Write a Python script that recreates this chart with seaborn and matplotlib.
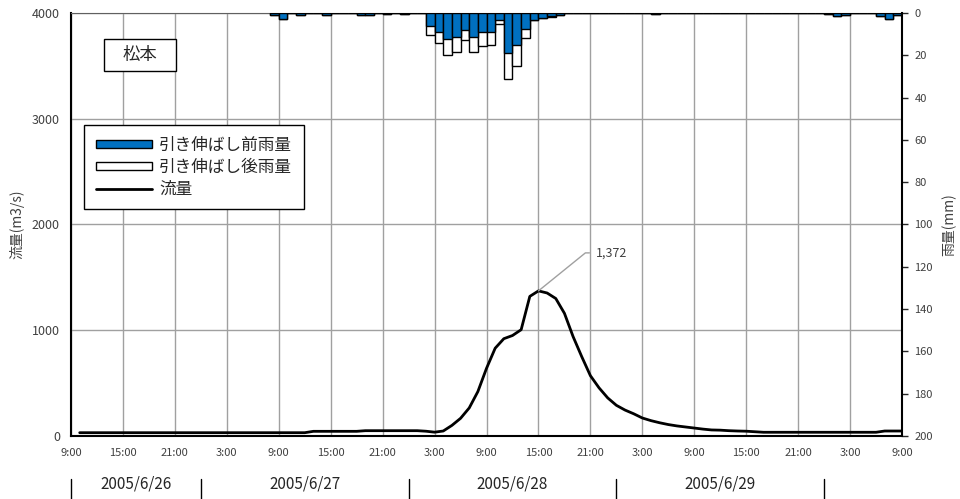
import numpy as np
import pandas as pd
import matplotlib
matplotlib.use('Agg')
import matplotlib.pyplot as plt
from matplotlib.patches import Patch, Rectangle
from matplotlib.lines import Line2D
import seaborn as sns

# time axis: hours counted from 2005/6/26 9:00
flow_hours = list(range(1, 97))
flow = [31, 31, 31, 31, 31, 31, 31, 31, 31, 31,
        31, 31, 31, 31, 31, 31, 31, 31, 31, 31,
        31, 31, 31, 31, 31, 31, 31, 44, 44, 44,
        44, 44, 44, 50, 50, 50, 50, 50, 50, 50,
        45, 36, 47, 100, 167, 265, 420, 640, 830, 920,
        950, 1005, 1320, 1372, 1352, 1300, 1160, 940, 750, 570,
        455, 360, 290, 245, 210, 170, 145, 125, 108, 95,
        85, 75, 65, 57, 55, 50, 47, 45, 40, 35,
        35, 35, 35, 35, 35, 35, 35, 35, 35, 35,
        35, 35, 35, 47, 47, 47]

# hourly rainfall, bar spans [hour, hour+1]
rain_hours = [23, 24, 26, 29, 33, 34, 36, 38,
              41, 42, 43, 44, 45, 46, 47, 48, 49, 50, 51, 52, 53, 54, 55, 56,
              67, 87, 88, 89, 93, 94, 95]
rain_before = [0.8, 2.7, 1.1, 1.1, 1.1, 1.1, 0.4, 0.5,
               6.0, 9.0, 12.1, 11.5, 7.9, 11.5, 9.1, 9.1, 3.2, 18.9, 15.3, 7.6, 3.2, 2.4, 1.6, 0.8,
               0.3, 0.3, 1.6, 1.1, 1.3, 2.7, 1.1]
rain_after = [0.8, 2.7, 1.1, 1.1, 1.1, 1.1, 0.4, 0.5,
              10.2, 14.2, 19.7, 18.6, 12.6, 18.6, 15.8, 15.1, 5.2, 31.2, 25.2, 11.8, 3.5, 2.6, 1.7, 0.9,
              0.3, 0.3, 1.6, 1.1, 1.3, 2.7, 1.1]

tick_labels = ['9:00', '15:00', '21:00', '3:00', '9:00', '15:00', '21:00', '3:00', '9:00',
               '15:00', '21:00', '3:00', '9:00', '15:00', '21:00', '3:00', '9:00']
dates = ['2005/6/26', '2005/6/27', '2005/6/28', '2005/6/29']
date_edges = [0, 15, 39, 63, 87]

sns.set_style('white')
plt.rcParams['font.family'] = ['Noto Sans CJK JP', 'DejaVu Sans']

fig, ax = plt.subplots(figsize=(9.6, 4.99), dpi=100)
fig.subplots_adjust(left=0.074, right=0.9396, bottom=0.1263, top=0.974)

# flow line
sns.lineplot(x=flow_hours, y=flow, ax=ax, color='black', lw=2)
ax.set_ylim(0, 4000)
ax.set_yticks([0, 1000, 2000, 3000, 4000])
ax.set_xticks(np.arange(0, 97, 6))
ax.set_xticklabels(tick_labels)
ax.grid(True, color='#a0a0a0', lw=1)
ax.tick_params(axis='both', length=0, labelcolor='#404040')
ax.tick_params(axis='x', pad=9, labelsize=8)
ax.tick_params(axis='y', pad=8, labelsize=9)
ax.set_xlabel('')
ax.set_ylabel('流量(m3/s)', fontsize=10, color='#404040')
ax.yaxis.set_label_coords(-0.0566, 0.5)
for s in ['left', 'bottom']:
    ax.spines[s].set_color('black')
    ax.spines[s].set_linewidth(1.5)
ax.spines['top'].set_color('#606060')
ax.spines['right'].set_visible(False)

# peak annotation
i = int(np.argmax(flow))
ax.annotate(f'{flow[i]:,}', xy=(flow_hours[i], flow[i]), xytext=(57, 38),
            textcoords='offset pixels', fontsize=9, color='#404040', ha='left', va='center',
            arrowprops=dict(arrowstyle='-', color='#a0a0a0', lw=1, relpos=(0, 0.5),
                            connectionstyle='angle,angleA=0,angleB=39', shrinkA=2, shrinkB=0))

# rainfall bars on inverted right axis
rain = pd.DataFrame({'mid': np.array(rain_hours) + 0.5,
                     'before': rain_before, 'after': rain_after})
ax2 = ax.twinx()
bins = list(range(rain_hours[0], 97))
sns.histplot(data=rain, x='mid', weights='after', bins=bins, ax=ax2, color='white',
             edgecolor='black', linewidth=1, alpha=1)
sns.histplot(data=rain, x='mid', weights='before', bins=bins, ax=ax2, color='#0070C0',
             edgecolor='black', linewidth=1, alpha=1)
ax2.set_ylim(200, 0)
ax2.set_yticks(np.arange(0, 201, 20))
ax2.tick_params(axis='y', direction='out', length=4, width=1, labelsize=8,
                labelcolor='#404040', pad=5)
ax2.set_ylabel('雨量(mm)', fontsize=10, color='#404040', rotation=90)
ax2.yaxis.set_label_coords(1.048, 0.5)
for s in ['left', 'top', 'bottom']:
    ax2.spines[s].set_visible(False)
ax2.spines['right'].set_color('black')
ax2.spines['right'].set_linewidth(1.5)
ax.set_xlim(0, 96)

# station label box
ax2.add_patch(Rectangle((0.0397, 0.863), 0.0863, 0.075, transform=ax2.transAxes,
                        facecolor='white', edgecolor='black', lw=1, zorder=5))
ax2.text(0.0827, 0.9005, '松本', transform=ax2.transAxes, ha='center', va='center',
         fontsize=12.5, zorder=6)

# legend
handles = [Patch(facecolor='#0070C0', edgecolor='black'),
           Patch(facecolor='white', edgecolor='black'),
           Line2D([], [], color='black', lw=2)]
labels = ['引き伸ばし前雨量', '引き伸ばし後雨量', '流量']
leg = ax2.legend(handles, labels, loc='upper left', bbox_to_anchor=(0.0157, 0.735),
                 fontsize=12, frameon=True, fancybox=False, edgecolor='black',
                 handlelength=3.4, handleheight=0.4, borderpad=0.7, labelspacing=0.3,
                 handletextpad=0.4, borderaxespad=0)
leg.get_frame().set_linewidth(1)
leg.get_frame().set_alpha(1)

# date row under the axis
xt = ax.get_xaxis_transform()
for k, lab in enumerate(dates):
    ax.text((date_edges[k] + date_edges[k + 1]) / 2, -0.1135, lab, transform=xt,
            ha='center', va='center', fontsize=11)
for e in date_edges:
    ax.plot([e, e], [-0.102, -0.16], transform=xt, clip_on=False, color='black', lw=1)

fig.savefig('out.png', dpi=100)
